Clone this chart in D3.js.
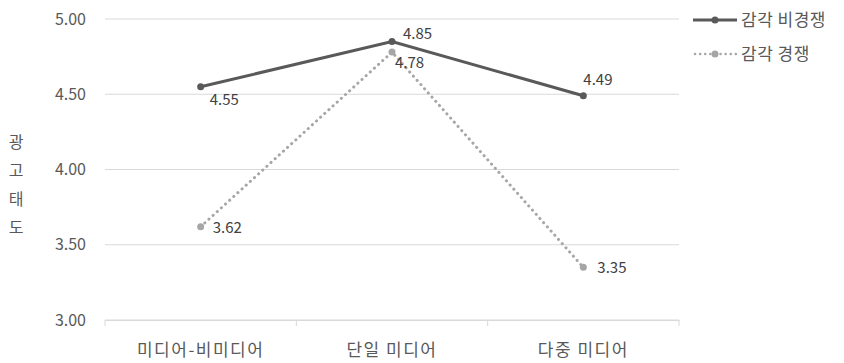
<!DOCTYPE html>
<html>
<head>
<meta charset="utf-8">
<script src="https://cdn.jsdelivr.net/npm/d3@7"></script>
<style>
  body { margin: 0; background: #fff; }
  text { font-family: "Noto Sans CJK KR", "Noto Sans", sans-serif; }
</style>
</head>
<body>
<svg id="chart" width="844" height="363"></svg>
<script>
const categories = ["미디어-비미디어", "단일 미디어", "다중 미디어"];
const nonCompete = [4.55, 4.85, 4.49];
const compete = [3.62, 4.78, 3.35];
const yTicks = [3.00, 3.50, 4.00, 4.50, 5.00];
const seriesNames = ["감각 비경쟁", "감각 경쟁"];

const margin = { left: 105, right: 165, top: 19, bottom: 43 };
const width = 844, height = 363;
const svg = d3.select("#chart");

const x = d3.scaleBand().domain(categories).range([margin.left, width - margin.right]);
const y = d3.scaleLinear().domain([3, 5]).range([height - margin.bottom, margin.top]);

// gridlines
svg.append("g").selectAll("line").data(yTicks).join("line")
  .attr("x1", margin.left).attr("x2", width - margin.right)
  .attr("y1", d => y(d)).attr("y2", d => y(d))
  .attr("stroke", "#d9d9d9").attr("stroke-width", 1);

// y labels
svg.append("g").selectAll("text").data(yTicks).join("text")
  .attr("x", margin.left - 19).attr("y", d => y(d)).attr("dy", "0.35em")
  .attr("text-anchor", "end").attr("fill", "#595959").attr("font-size", 16)
  .text(d => d.toFixed(2));

// x axis
const xAxis = svg.append("g")
  .attr("transform", `translate(0,${y(3)})`)
  .call(d3.axisBottom(x).tickSize(0).tickFormat(""));
xAxis.select(".domain").attr("stroke", "#d9d9d9");
const bounds = categories.map(c => x(c)).concat([x(categories[2]) + x.bandwidth()]);
svg.append("g").selectAll("line").data(bounds).join("line")
  .attr("x1", d => d).attr("x2", d => d)
  .attr("y1", y(3)).attr("y2", y(3) + 6)
  .attr("stroke", "#d9d9d9");
svg.append("g").selectAll("text").data(categories).join("text")
  .attr("x", d => x(d) + x.bandwidth() / 2).attr("y", y(3) + 30).attr("dy", "0.35em")
  .attr("text-anchor", "middle").attr("fill", "#595959").attr("font-size", 17)
  .attr("letter-spacing", 1.5)
  .text(d => d);

// y title stacked
const title = "광고태도".split("");
svg.append("g").selectAll("text").data(title).join("text")
  .attr("x", 16).attr("y", (d, i) => 142 + i * 28.5).attr("dy", "0.35em")
  .attr("text-anchor", "middle").attr("fill", "#595959").attr("font-size", 16)
  .text(d => d);

const cx = d => x(d) + x.bandwidth() / 2;
const line = d3.line().x(d => cx(d[0])).y(d => y(d[1]));

// compete (dotted)
const compData = categories.map((c, i) => [c, compete[i]]);
svg.append("path").datum(compData).attr("d", line)
  .attr("fill", "none").attr("stroke", "#a6a6a6").attr("stroke-width", 3)
  .attr("stroke-dasharray", "0.1,5.5").attr("stroke-linecap", "round");
svg.append("g").selectAll("circle").data(compData).join("circle")
  .attr("cx", d => cx(d[0])).attr("cy", d => y(d[1])).attr("r", 3.5)
  .attr("fill", "#a6a6a6");

// non-compete (solid)
const nonData = categories.map((c, i) => [c, nonCompete[i]]);
svg.append("path").datum(nonData).attr("d", line)
  .attr("fill", "none").attr("stroke", "#595959").attr("stroke-width", 3);
svg.append("g").selectAll("circle").data(nonData).join("circle")
  .attr("cx", d => cx(d[0])).attr("cy", d => y(d[1])).attr("r", 3.5)
  .attr("fill", "#595959");

// data labels (offsets relative to the point, label centre-left)
const labelOffsets = {
  non: [[9, 13], [11, -8], [0, -16]],
  comp: [[12, 1], [3, 11], [14, 0]]
};
svg.append("g").selectAll("text").data(nonData).join("text")
  .attr("x", (d, i) => cx(d[0]) + labelOffsets.non[i][0])
  .attr("y", (d, i) => y(d[1]) + labelOffsets.non[i][1]).attr("dy", "0.35em")
  .attr("fill", "#404040").attr("font-size", 15)
  .text(d => d[1].toFixed(2));
svg.append("g").selectAll("text").data(compData).join("text")
  .attr("x", (d, i) => cx(d[0]) + labelOffsets.comp[i][0])
  .attr("y", (d, i) => y(d[1]) + labelOffsets.comp[i][1]).attr("dy", "0.35em")
  .attr("fill", "#404040").attr("font-size", 15)
  .text(d => d[1].toFixed(2));

// legend
const legend = svg.append("g").attr("transform", "translate(693,20)");
const styles = [
  { stroke: "#595959", w: 3, dash: null },
  { stroke: "#a6a6a6", w: 2.5, dash: "0.1,5" }
];
seriesNames.forEach((name, i) => {
  const g = legend.append("g").attr("transform", `translate(0,${i * 34})`);
  g.append("line").attr("x1", i ? 2 : 0).attr("x2", 44).attr("y1", 0).attr("y2", 0)
    .attr("stroke", styles[i].stroke).attr("stroke-width", styles[i].w)
    .attr("stroke-dasharray", styles[i].dash).attr("stroke-linecap", i ? "round" : "butt");
  g.append("circle").attr("cx", 22).attr("cy", 0).attr("r", 3.5).attr("fill", styles[i].stroke);
  g.append("text").attr("x", 48).attr("y", 0).attr("dy", "0.35em")
    .attr("fill", "#595959").attr("font-size", 17).attr("letter-spacing", 0.5).text(name);
});
</script>
</body>
</html>
